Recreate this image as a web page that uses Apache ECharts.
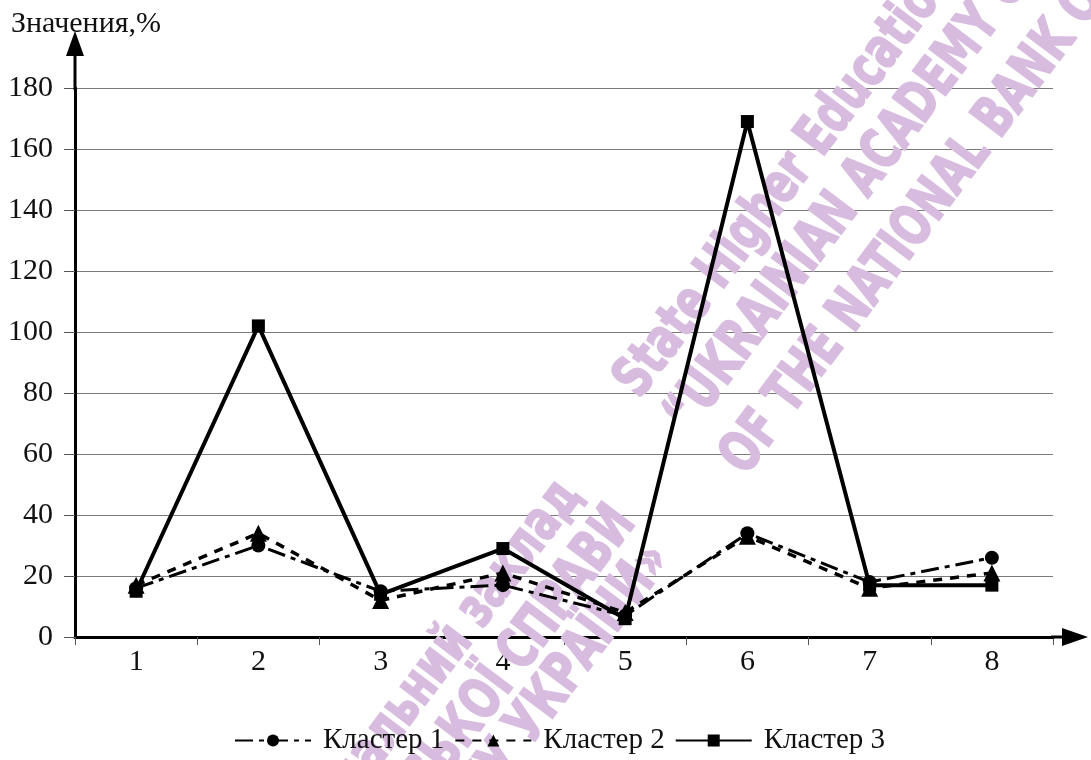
<!DOCTYPE html>
<html>
<head>
<meta charset="utf-8">
<script src="https://cdn.jsdelivr.net/npm/echarts@6/dist/echarts.min.js"></script>
<style>
  html, body { margin: 0; padding: 0; background: #fff; }
  #chart { width: 1091px; height: 760px; }
</style>
</head>
<body>
<div id="chart"></div>
<script>
// Category labels along the horizontal axis
const categories = ['1', '2', '3', '4', '5', '6', '7', '8'];

// Values per cluster, %
const cluster1 = [16, 30, 15, 17, 7, 34, 18, 26];
const cluster2 = [17, 34, 12, 21, 8, 33, 16, 21];
const cluster3 = [15, 102, 14, 29, 6, 169, 17, 17];

const seriesNames = ['Кластер 1', 'Кластер 2', 'Кластер 3'];
const yTitle = 'Значения,%';

// Library stamp printed diagonally across the page
const stampUk = ['Державний вищий навчальний заклад', '«УКРАЇНСЬКА АКАДЕМІЯ БАНКІВСЬКОЇ СПРАВИ', 'НАЦІОНАЛЬНОГО БАНКУ УКРАЇНИ»'];
const stampEn = ['State Higher Educational Institution', '“UKRAINIAN ACADEMY OF BANKING', 'OF THE NATIONAL BANK OF UKRAINE”'];

const serif = '"Liberation Serif", "DejaVu Serif", serif';
const GRID = { left: 75, right: 38, top: 88, bottom: 123 };
const W = 1091, H = 760;
const axisY0 = H - GRID.bottom;          // pixel row of the x axis
const axisX1 = W - GRID.right;           // right end of the plot area

const chart = echarts.init(document.getElementById('chart'), null, { renderer: 'canvas' });

// diagonal stamp text, kept underneath the data lines
const ang = 53 * Math.PI / 180;
const stampColor = '#d8bcdf';
const stampFont = 'bold 56px "DejaVu Sans", sans-serif';
const stampUkEnds = [[571, 487], [625, 514], [660, 551]];
const stampEnStarts = [[628, 391], [678, 426], [734, 468]];

function stampText(t, pos, align) {
  return {
    type: 'text', x: pos[0], y: pos[1], rotation: ang, scaleX: 0.72, z: 1,
    style: {
      text: t, fill: stampColor, stroke: stampColor, lineWidth: 2,
      font: stampFont, textAlign: align, textVerticalAlign: 'middle'
    }
  };
}
const stampItems = [];
stampUk.forEach((t, i) => stampItems.push(stampText(t, stampUkEnds[i], 'right')));
stampEn.forEach((t, i) => stampItems.push(stampText(t, stampEnStarts[i], 'left')));

// axis extensions with arrow heads
const axisDecor = [
  { type: 'line', z: 50, shape: { x1: GRID.left, y1: GRID.top + 2, x2: GRID.left, y2: 54 }, style: { stroke: '#000', lineWidth: 3 } },
  { type: 'polygon', z: 50, shape: { points: [[GRID.left, 31], [GRID.left - 9, 56], [GRID.left + 9, 56]] }, style: { fill: '#000' } },
  { type: 'line', z: 50, shape: { x1: axisX1 - 2, y1: axisY0, x2: 1064, y2: axisY0 }, style: { stroke: '#000', lineWidth: 3 } },
  { type: 'polygon', z: 50, shape: { points: [[1088, axisY0], [1062, axisY0 - 9], [1062, axisY0 + 9]] }, style: { fill: '#000' } }
];

const symbols = ['circle', 'triangle', 'rect'];
const symbolSizes = [14, 17, 13];
const dashes = [[18, 6, 5, 6], [9, 8], 'solid'];
const widths = [3, 3.5, 4];
const dataSets = [cluster1, cluster2, cluster3];

chart.setOption({
  backgroundColor: '#fff',
  animation: false,
  title: {
    text: yTitle, left: 6, top: 4,
    textStyle: { fontFamily: serif, fontSize: 30, fontWeight: 'normal', color: '#111' }
  },
  legend: {
    bottom: 0, left: 229,
    itemWidth: 76, itemHeight: 15, itemGap: 10,
    textStyle: { fontFamily: serif, fontSize: 29, color: '#111', padding: [0, 0, 0, 7] },
    data: seriesNames
  },
  grid: { left: GRID.left, right: GRID.right, top: GRID.top, bottom: GRID.bottom, containLabel: false },
  xAxis: {
    type: 'category', data: categories, boundaryGap: true,
    axisLine: { lineStyle: { color: '#000', width: 3 } },
    axisTick: { show: true, length: 8, lineStyle: { color: '#555', width: 1 } },
    axisLabel: { fontFamily: serif, fontSize: 30, color: '#111', margin: 10 },
    splitLine: { show: false }
  },
  yAxis: {
    type: 'value', min: 0, max: 180, interval: 20,
    axisLine: { show: true, lineStyle: { color: '#000', width: 3 } },
    axisTick: { show: true, length: 11, lineStyle: { color: '#555', width: 1 } },
    axisLabel: { fontFamily: serif, fontSize: 30, color: '#111', margin: 22 },
    splitLine: { show: true, lineStyle: { color: '#7a7a7a', width: 1 } }
  },
  series: dataSets.map((d, i) => ({
    name: seriesNames[i],
    type: 'line',
    data: d,
    symbol: symbols[i],
    symbolSize: symbolSizes[i],
    showAllSymbol: true,
    z: 3 + i,
    itemStyle: { color: '#000' },
    lineStyle: { color: '#000', width: widths[i], type: dashes[i] }
  })),
  graphic: axisDecor.concat(stampItems)
});
</script>
</body>
</html>
